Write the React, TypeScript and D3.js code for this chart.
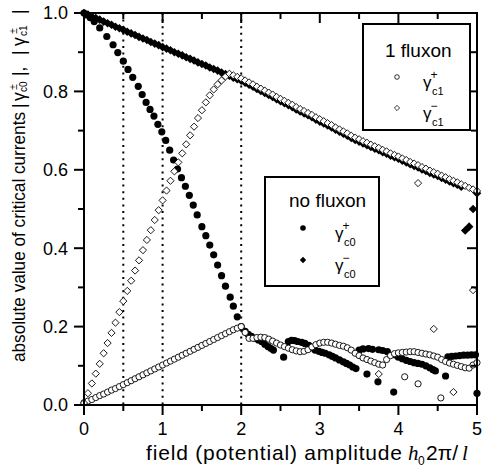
import React from "react";
import * as d3 from "d3";

// field grid (x values, step 0.05 from 0 to 5)
const xGrid: number[] = d3.range(101).map((i) => +(i * 0.05).toFixed(2));

// gamma_c0^- (filled diamonds), on xGrid
const gammaC0Minus: number[] = [
  1.0, 0.996, 0.991, 0.987, 0.983, 0.978, 0.974, 0.97, 0.965, 0.961,
  0.957, 0.952, 0.948, 0.944, 0.939, 0.935, 0.931, 0.926, 0.922, 0.918,
  0.913, 0.909, 0.905, 0.9, 0.896, 0.892, 0.887, 0.883, 0.879, 0.874,
  0.87, 0.866, 0.861, 0.857, 0.853, 0.848, 0.844, 0.84, 0.835, 0.831,
  0.827,
  0.822, 0.817, 0.812, 0.806, 0.801, 0.796, 0.791, 0.786, 0.78,
  0.775, 0.77, 0.765, 0.76, 0.754, 0.749, 0.744, 0.739, 0.734, 0.728,
  0.723, 0.718, 0.713, 0.708, 0.702, 0.697, 0.692, 0.687, 0.681, 0.676,
  0.672, 0.667, 0.663, 0.658, 0.654, 0.65, 0.645, 0.641, 0.636, 0.632,
  0.628, 0.623, 0.619, 0.614, 0.61, 0.606, 0.601, 0.597, 0.592, 0.588,
  0.584, 0.579, 0.575, 0.57, 0.566, 0.562, 0.557, 0.445, 0.455, 0.5,
  0.54,
];

// gamma_c1^- (open diamonds), on xGrid
const gammaC1Minus: number[] = [
  0.005, 0.03, 0.055, 0.08, 0.105, 0.132, 0.158, 0.184, 0.21, 0.237,
  0.265, 0.291, 0.317, 0.343, 0.369, 0.395, 0.421, 0.446, 0.472, 0.497,
  0.522, 0.547, 0.572, 0.596, 0.619, 0.642, 0.665, 0.688, 0.71, 0.732,
  0.752, 0.772, 0.79, 0.805, 0.818, 0.828, 0.838, 0.845, 0.841, 0.837,
  0.833,
  0.828, 0.823, 0.818, 0.812, 0.807, 0.802, 0.797, 0.792, 0.786,
  0.781, 0.776, 0.771, 0.766, 0.76, 0.755, 0.75, 0.745, 0.74, 0.734,
  0.729, 0.724, 0.719, 0.714, 0.708, 0.703, 0.698, 0.693, 0.687, 0.682,
  0.678, 0.673, 0.669, 0.664, 0.66, 0.656, 0.651, 0.647, 0.642, 0.638,
  0.634, 0.629, 0.625, 0.62, 0.616, 0.612, 0.607, 0.603, 0.598, 0.594,
  0.59, 0.585, 0.581, 0.576, 0.572, 0.568, 0.563, 0.559, 0.554, 0.55,
  0.546,
];
const gammaC1MinusExtra: [number, number][] = [
  [3.75, 0.079], [4.25, 0.566], [4.45, 0.194], [4.7, 0.033], [4.95, 0.293],
];

// gamma_c1^+ (open circles), on xGrid
const gammaC1Plus: number[] = [
  0.006, 0.01, 0.014, 0.019, 0.024, 0.028, 0.033, 0.038, 0.042, 0.047,
  0.052, 0.057, 0.062, 0.067, 0.072, 0.077, 0.082, 0.087, 0.092, 0.097,
  0.102, 0.107, 0.112, 0.117, 0.122, 0.127, 0.132, 0.137, 0.142, 0.147,
  0.152, 0.157, 0.162, 0.167, 0.172, 0.177, 0.182, 0.187, 0.192, 0.196,
  0.2,
  0.185, 0.17, 0.17, 0.172, 0.173, 0.172, 0.168, 0.163, 0.158,
  0.153, 0.149, 0.145, 0.141, 0.138, 0.136, 0.137, 0.141, 0.148, 0.154,
  0.158, 0.16, 0.16, 0.158, 0.155, 0.152, 0.15, 0.146, 0.14, 0.132,
  0.126, 0.12, 0.116, 0.112, 0.108, 0.104, 0.102, 0.116, 0.126, 0.131,
  0.133, 0.134, 0.135, 0.136, 0.136, 0.134, 0.132, 0.13, 0.128, 0.125,
  0.122, 0.116, 0.111, 0.107, 0.104, 0.101, 0.098, 0.095, 0.094, 0.102,
  0.108,
];
const gammaC1PlusExtra: [number, number][] = [
  [4.08, 0.072], [4.25, 0.054], [4.54, 0.018],
];

// gamma_c0^+ (filled circles)
const gammaC0Plus: [number, number][] = [
  [0, 1.0], [0.04, 0.995], [0.08, 0.988], [0.13, 0.978], [0.2, 0.962],
  [0.29, 0.94], [0.37, 0.919], [0.43, 0.899], [0.5, 0.877], [0.56, 0.856],
  [0.62, 0.836], [0.69, 0.813], [0.74, 0.792], [0.79, 0.772], [0.84, 0.754],
  [0.89, 0.737], [0.94, 0.716], [0.99, 0.697], [1.04, 0.675], [1.09, 0.65],
  [1.14, 0.625], [1.19, 0.602], [1.24, 0.58], [1.29, 0.558], [1.34, 0.535],
  [1.39, 0.51], [1.44, 0.485], [1.5, 0.455], [1.55, 0.432], [1.6, 0.408],
  [1.65, 0.383], [1.7, 0.357], [1.75, 0.33], [1.8, 0.303], [1.86, 0.275],
  [1.9, 0.252], [1.95, 0.225], [2.0, 0.2],
  [2.05, 0.188], [2.09, 0.18], [2.13, 0.175], [2.18, 0.17], [2.22, 0.166],
  [2.26, 0.162], [2.3, 0.155], [2.34, 0.149], [2.38, 0.144], [2.41, 0.14],
  [2.54, 0.122], [2.6, 0.162], [2.64, 0.165], [2.68, 0.164], [2.72, 0.162],
  [2.77, 0.16], [2.81, 0.157], [2.86, 0.152], [2.9, 0.146], [2.94, 0.14],
  [2.99, 0.137], [3.03, 0.134], [3.07, 0.132], [3.12, 0.128], [3.16, 0.124],
  [3.2, 0.12], [3.25, 0.115], [3.3, 0.11], [3.34, 0.106], [3.38, 0.102],
  [3.42, 0.097], [3.46, 0.093], [3.5, 0.14], [3.55, 0.143], [3.6, 0.079],
  [3.62, 0.144], [3.67, 0.142], [3.74, 0.059], [3.75, 0.141], [3.8, 0.139],
  [3.86, 0.136], [3.94, 0.033], [3.96, 0.128], [4.0, 0.122], [4.05, 0.118],
  [4.1, 0.114], [4.15, 0.111], [4.2, 0.108], [4.25, 0.106], [4.3, 0.104],
  [4.35, 0.1], [4.4, 0.095], [4.44, 0.09], [4.47, 0.087], [4.6, 0.074],
  [4.63, 0.123], [4.68, 0.124], [4.73, 0.125], [4.78, 0.126], [4.83, 0.127],
  [4.88, 0.127], [4.93, 0.128], [4.98, 0.128], [5.0, 0.03],
];

const xTicks = [0, 1, 2, 3, 4, 5];
const xMinorTicks = [0.5, 1.5, 2.5, 3.5, 4.5];
const yTicks = [0, 0.2, 0.4, 0.6, 0.8, 1.0];
const yMinorTicks = [0.1, 0.3, 0.5, 0.7, 0.9];
const markerLines = [0.5, 1, 2];

const FONT = "'Liberation Sans', Arial, Helvetica, sans-serif";
const SERIF = "'Liberation Serif', 'Times New Roman', serif";

const diamond = (s: number) => `M0,${-s}L${s},0L0,${s}L${-s},0Z`;

function GammaLabel({ x, y, sub, sup }: { x: number; y: number; sub: string; sup: string }) {
  return (
    <g fontFamily={FONT} fill="#000">
      <text x={x} y={y + 11} fontSize={17}>γ</text>
      <text x={x + 11} y={y + 2} fontSize={12} textAnchor="middle">{sup}</text>
      <text x={x + 9} y={y + 18} fontSize={11}>{sub}</text>
    </g>
  );
}

export default function App() {
  const W = 482, H = 474;
  const x = d3.scaleLinear().domain([0, 5]).range([84, 477]);
  const y = d3.scaleLinear().domain([0, 1]).range([405, 13]);
  const [x0, x1] = x.range();
  const [y0, y1] = y.range();

  const gridPts = (vals: number[]) => vals.map((v, i) => [xGrid[i], v] as [number, number]);

  return (
    <svg width={W} height={H} style={{ position: "absolute", left: 0, top: 0, background: "#fff" }}>
      <rect width={W} height={H} fill="#fff" />
      {/* dotted lines */}
      {markerLines.map((m) => (
        <line key={m} x1={x(m)} x2={x(m)} y1={y1} y2={y0} stroke="#000" strokeWidth={2} strokeDasharray="2 4.6" />
      ))}

      {/* filled circles gamma_c0^+ */}
      <g fill="#000">
        {gammaC0Plus.map(([a, b], i) => (
          <circle key={i} cx={x(a)} cy={y(b)} r={3.6} />
        ))}
      </g>
      {/* filled diamonds gamma_c0^- */}
      <g fill="#000">
        {gridPts(gammaC0Minus).map(([a, b], i) => (
          <path key={i} d={diamond(4.3)} transform={`translate(${x(a)},${y(b)})`} />
        ))}
      </g>
      {/* open circles gamma_c1^+ */}
      <g fill="#fff" stroke="#000" strokeWidth={0.9}>
        {gridPts(gammaC1Plus).concat(gammaC1PlusExtra).map(([a, b], i) => (
          <circle key={i} cx={x(a)} cy={y(b)} r={3.1} />
        ))}
      </g>
      {/* open diamonds gamma_c1^- */}
      <g fill="#fff" stroke="#000" strokeWidth={0.9}>
        {gridPts(gammaC1Minus).concat(gammaC1MinusExtra).map(([a, b], i) => (
          <path key={i} d={diamond(3.6)} transform={`translate(${x(a)},${y(b)})`} />
        ))}
      </g>

      {/* frame */}
      <rect x={x0} y={y1} width={x1 - x0} height={y0 - y1} fill="none" stroke="#000" strokeWidth={2} />

      {/* ticks */}
      <g stroke="#000" strokeWidth={2}>
        {xTicks.map((t) => (
          <g key={"xt" + t}>
            <line x1={x(t)} x2={x(t)} y1={y0} y2={y0 + 10} />
            <line x1={x(t)} x2={x(t)} y1={y1} y2={y1 + 10} />
          </g>
        ))}
        {xMinorTicks.map((t) => (
          <g key={"xm" + t}>
            <line x1={x(t)} x2={x(t)} y1={y0} y2={y0 + 6} />
            <line x1={x(t)} x2={x(t)} y1={y1} y2={y1 + 6} />
          </g>
        ))}
        {yTicks.map((t) => (
          <g key={"yt" + t}>
            <line x1={x0} x2={x0 - 10} y1={y(t)} y2={y(t)} />
            <line x1={x1} x2={x1 - 10} y1={y(t)} y2={y(t)} />
          </g>
        ))}
        {yMinorTicks.map((t) => (
          <g key={"ym" + t}>
            <line x1={x0} x2={x0 - 6} y1={y(t)} y2={y(t)} />
            <line x1={x1} x2={x1 - 6} y1={y(t)} y2={y(t)} />
          </g>
        ))}
      </g>

      {/* tick labels */}
      <g fontFamily={FONT} fontSize={18} fill="#000">
        {xTicks.map((t) => (
          <text key={t} x={x(t)} y={435} textAnchor="middle">{d3.format("d")(t)}</text>
        ))}
        {yTicks.map((t) => (
          <text key={t} x={68} y={y(t)} dy="0.36em" textAnchor="end">{d3.format(".1f")(t)}</text>
        ))}
      </g>

      {/* x title */}
      <g fontFamily={FONT} fill="#000">
        <text x={146} y={460} fontSize={21} textLength={256} lengthAdjust="spacing">field (potential) amplitude</text>
        <text x={408} y={460} fontSize={21} fontStyle="italic" fontFamily={SERIF}>h</text>
        <text x={418} y={465} fontSize={12}>0</text>
        <text x={426} y={460} fontSize={21}>2π/</text>
        <text x={462} y={460} fontSize={21} fontStyle="italic" fontFamily={SERIF}>l</text>
      </g>

      {/* y title */}
      <g transform="translate(25,362) rotate(-90)" fontFamily={FONT} fill="#000">
        <text x={0} y={0} fontSize={17.5} textLength={250} lengthAdjust="spacingAndGlyphs">absolute value of critical currents</text>
        <text x={254} y={0} fontSize={17.5}>|</text>
        <text x={261} y={0} fontSize={17.5}>γ</text>
        <text x={270} y={2} fontSize={10}>c0</text>
        <text x={275} y={-8} fontSize={10} textAnchor="middle">±</text>
        <text x={286} y={0} fontSize={17.5}>|,</text>
        <text x={307} y={0} fontSize={17.5}>|</text>
        <text x={316} y={0} fontSize={17.5}>γ</text>
        <text x={326} y={2} fontSize={10}>c1</text>
        <text x={331} y={-8} fontSize={10} textAnchor="middle">±</text>
        <text x={348} y={0} fontSize={17.5}>|</text>
      </g>

      {/* legend: 1 fluxon */}
      <rect x={363} y={24} width={107} height={106} fill="#fff" stroke="#000" strokeWidth={2} />
      <text x={385} y={57} fontFamily={FONT} fontSize={19} fill="#000">1 fluxon</text>
      <circle cx={397} cy={77} r={2.3} fill="#fff" stroke="#000" strokeWidth={0.8} />
      <GammaLabel x={423} y={77} sub="c1" sup="+" />
      <path d={diamond(2.6)} transform="translate(397,108)" fill="#fff" stroke="#000" strokeWidth={0.8} />
      <GammaLabel x={423} y={108} sub="c1" sup="−" />

      {/* legend: no fluxon */}
      <rect x={265} y={177} width={114} height={109} fill="#fff" stroke="#000" strokeWidth={2} />
      <text x={289} y={207} fontFamily={FONT} fontSize={19} fill="#000">no fluxon</text>
      <circle cx={303} cy={228} r={2.8} fill="#000" />
      <GammaLabel x={335} y={228} sub="c0" sup="+" />
      <path d={diamond(3.2)} transform="translate(303,260)" fill="#000" />
      <GammaLabel x={335} y={260} sub="c0" sup="−" />
    </svg>
  );
}
